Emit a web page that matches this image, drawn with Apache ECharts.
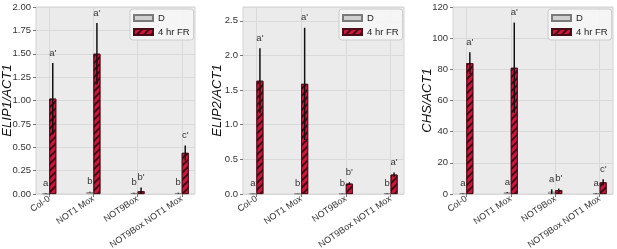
<!DOCTYPE html>
<html>
<head>
<meta charset="utf-8">
<script src="https://cdn.jsdelivr.net/npm/echarts@6/dist/echarts.min.js"></script>
<style>
  html, body { margin: 0; padding: 0; background: #fff; }
  #chart { width: 617px; height: 249px; }
</style>
</head>
<body>
<div id="chart"></div>
<script>
// categories (genotypes)
var categories = ['Col-0', 'NOT1 Mox', 'NOT9Box', 'NOT9Box NOT1 Mox'];
var seriesNames = ['D', '4 hr FR'];

// ELIP1/ACT1
var elip1D = [0.003, 0.02, 0.01, 0.01];
var elip1DErr = [0.002, 0.005, 0.004, 0.004];
var elip1FR = [1.02, 1.50, 0.03, 0.44];
var elip1FRErr = [0.38, 0.33, 0.04, 0.08];
var elip1DLetters = ['a', 'b', 'b', 'b'];
var elip1FRLetters = ["a'", "a'", "b'", "c'"];

// ELIP2/ACT1
var elip2D = [0.005, 0.005, 0.005, 0.01];
var elip2DErr = [0.002, 0.002, 0.002, 0.004];
var elip2FR = [1.635, 1.59, 0.15, 0.28];
var elip2FRErr = [0.47, 0.81, 0.02, 0.03];
var elip2DLetters = ['a', 'b', 'b', 'b'];
var elip2FRLetters = ["a'", "a'", "b'", "a'"];

// CHS/ACT1
var chsD = [0.5, 1.0, 1.5, 0.5];
var chsDErr = [0.2, 0.3, 1.5, 0.2];
var chsFR = [84, 81, 2.5, 7.5];
var chsFRErr = [7, 29, 1, 2];
var chsDLetters = ['a', 'a', 'a', 'a'];
var chsFRLetters = ["a'", "a'", "b'", "c'"];

// y axes
var yMax = [2.0, 2.7, 120];
var yInterval = [0.25, 0.5, 20];
var yDecimals = [2, 1, 0];
var yNames = ['ELIP1/ACT1', 'ELIP2/ACT1', 'CHS/ACT1'];

var panels = [
    {d: elip1D, dErr: elip1DErr, fr: elip1FR, frErr: elip1FRErr, dL: elip1DLetters, frL: elip1FRLetters},
    {d: elip2D, dErr: elip2DErr, fr: elip2FR, frErr: elip2FRErr, dL: elip2DLetters, frL: elip2FRLetters},
    {d: chsD, dErr: chsDErr, fr: chsFR, frErr: chsFRErr, dL: chsDLetters, frL: chsFRLetters}
];

var FONT = 'Liberation Sans, Arial, sans-serif';
var BAR_W = 7;
var RED = '#c8183c';
var GREY = '#cfcfcf';

// plot rectangles: left, right edge (px)
var gridBoxes = [
    {left: 36, right: 617 - 195},
    {left: 243, right: 617 - 404},
    {left: 453, right: 617 - 613}
];
var legendLeft = [130, 339, 548];
var yNameGap = [22, 19, 19];

var hatch = {
    symbol: 'rect',
    symbolSize: 1,
    dashArrayX: [1, 0],
    dashArrayY: [1.4, 2.2],
    rotation: -Math.PI / 4,
    color: 'rgba(45,0,10,0.8)'
};

function errRender(offset, errs, letters) {
    return function (params, api) {
        var k = params.dataIndex;
        var x = api.value(0), m = api.value(1), e = errs[k];
        var top = api.coord([x, m + e]);
        var bot = api.coord([x, Math.max(0, m - e)]);
        var px = top[0] + offset;
        return {
            type: 'group',
            children: [
                {type: 'line', shape: {x1: px, y1: top[1], x2: px, y2: bot[1]},
                 style: {stroke: '#111', lineWidth: 1.5}},
                {type: 'text', x: px, y: top[1] - 10,
                 style: {text: letters[k], fill: '#333', font: '9.5px ' + FONT,
                         align: 'center', verticalAlign: 'middle'}}
            ]
        };
    };
}

var option = {
    animation: false,
    backgroundColor: '#fff',
    grid: [], xAxis: [], yAxis: [], series: [], legend: []
};

panels.forEach(function (p, i) {
    option.grid.push({
        left: gridBoxes[i].left, right: gridBoxes[i].right, top: 7, bottom: 55,
        outerBoundsMode: 'none', containLabel: false,
        show: true, backgroundColor: '#ebebeb', borderColor: '#d4d4d4', borderWidth: 1
    });
    option.xAxis.push({
        type: 'value', gridIndex: i, min: -0.3, max: 3.3,
        axisLine: {show: false, onZero: false},
        axisTick: {show: true, length: 3, customValues: [0, 1, 2, 3], lineStyle: {color: '#777'}},
        axisLabel: {
            customValues: [0, 1, 2, 3], rotate: 34, fontSize: 9, color: '#333', fontFamily: FONT, margin: 4,
            formatter: function (v) { return categories[Math.round(v)] || ''; }
        },
        splitLine: {show: true, lineStyle: {color: '#d9d9d9', width: 1}}
    });
    option.yAxis.push({
        type: 'value', gridIndex: i, min: 0, max: yMax[i], interval: yInterval[i],
        name: yNames[i], nameLocation: 'middle', nameGap: yNameGap[i], nameMoveOverlap: false,
        nameTextStyle: {fontStyle: 'italic', fontSize: 13, color: '#111', fontFamily: FONT},
        axisLine: {show: false, onZero: false},
        axisTick: {show: true, length: 3, lineStyle: {color: '#777'}},
        axisLabel: {
            fontSize: 9.5, color: '#333', fontFamily: FONT, margin: 5, showMaxLabel: i !== 1,
            formatter: function (v) { return v.toFixed(yDecimals[i]); }
        },
        splitLine: {show: true, lineStyle: {color: '#d9d9d9', width: 1}}
    });
    var dData = p.d.map(function (v, k) { return [k, v]; });
    var frData = p.fr.map(function (v, k) { return [k, v]; });
    option.series.push({
        name: seriesNames[0], type: 'bar', xAxisIndex: i, yAxisIndex: i,
        barWidth: BAR_W, barGap: '0%', data: dData,
        itemStyle: {color: GREY, borderColor: '#7a7a7a', borderWidth: 0.7}
    });
    option.series.push({
        name: seriesNames[1], type: 'bar', xAxisIndex: i, yAxisIndex: i,
        barWidth: BAR_W, barGap: '0%', data: frData,
        itemStyle: {color: RED, borderColor: '#4a0c18', borderWidth: 0.8, decal: hatch}
    });
    option.series.push({
        type: 'custom', xAxisIndex: i, yAxisIndex: i, z: 5,
        renderItem: errRender(-BAR_W / 2, p.dErr, p.dL),
        data: dData
    });
    option.series.push({
        type: 'custom', xAxisIndex: i, yAxisIndex: i, z: 5,
        renderItem: errRender(BAR_W / 2, p.frErr, p.frL),
        data: frData
    });
    option.legend.push({
        data: seriesNames, orient: 'vertical', left: legendLeft[i], top: 9,
        icon: 'rect', itemWidth: 19, itemHeight: 6, itemGap: 4,
        padding: [4, 4, 3, 3], backgroundColor: 'rgba(245,245,245,0.92)',
        borderColor: '#cccccc', borderWidth: 1, borderRadius: 3,
        selectedMode: false,
        textStyle: {fontSize: 9.5, color: '#222', fontFamily: FONT, padding: [0, 0, 0, 0]}
    });
});

var chart = echarts.init(document.getElementById('chart'), null, {renderer: 'canvas'});
chart.setOption(option);
</script>
</body>
</html>
